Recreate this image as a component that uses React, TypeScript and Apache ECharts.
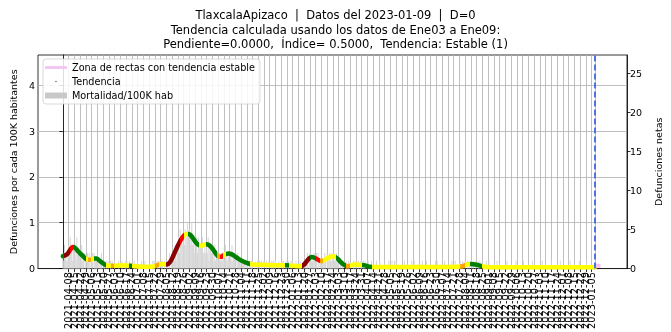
import { useEffect, useRef } from 'react';
import * as echarts from 'echarts';

// Day 0 of the x axis is 2021-04-01; values on x are day offsets from it.
const INICIO = Date.UTC(2021, 3, 1);
const DIA_CORTE = 648; // 2023-01-09
const POBLACION = 586000;
const Y_MAX = 4.66;

const TITULO = [
  'TlaxcalaApizaco  |  Datos del 2023-01-09  |  D=0',
  'Tendencia calculada usando los datos de Ene03 a Ene09:',
  'Pendiente=0.0000,  Índice= 0.5000,  Tendencia: Estable (1)',
];

// Net daily deaths, one string of 7 digits per week starting 2021-04-01.
const muertesSemana: string[] = [
  '2132121', '3242313', '2314222', '2131202', '1021210', '1202111', '1101120', '1010101',
  '0010100', '1000010', '0010001', '0100100', '0001000', '1000010', '0010000', '0000101',
  '1001010', '0110010', '1010201', '2121312', '3425343', '4353464', '5436342', '3242433',
  '3342232', '3241332', '2313122', '1221212', '2131212', '1213122', '2102111', '1011101',
  '0101011', '1001001', '0110100', '1001001', '0010110', '1000100', '0101001', '0010010',
  '1000100', '0010001', '1011201', '2111121', '1202101', '1111210', '2112112', '1211211',
  '1010110', '0010010', '1000101', '0101001', '1010100', '0100010', '0000100', '0100000',
  '0000010', '0010010', '1000000', '0001000', '0000010', '0100000', '0000100', '0010000',
  '0000001', '0100000', '0001000', '0000010', '0010000', '0100100', '1001010', '0101001',
  '0010100', '0000010', '0100000', '0000100', '0000000', '0010000', '0000001', '0000000',
  '0100000', '0000010', '0000000', '0001000', '0000000', '1000000', '0000100', '0000000',
  '0010000', '0000001', '0000000', '0100000', '00000',
];

// Smoothed trend (deaths per 100K) at selected days.
const tendenciaDias = [
  0, 3, 6, 9, 12, 15, 18, 21, 24, 28, 31, 35, 38, 41, 44, 47, 50, 53, 58, 64, 73, 83, 97, 108,
  113, 118, 122, 127, 130, 133, 136, 139, 142, 145, 148, 151, 154, 157, 160, 163, 166, 169, 172,
  175, 178, 181, 184, 187, 190, 193, 196, 199, 202, 206, 210, 214, 218, 223, 228, 234, 246, 254,
  265, 273, 281, 290, 294, 297, 300, 303, 306, 309, 312, 315, 318, 321, 325, 329, 332, 335, 338,
  341, 344, 347, 351, 356, 362, 368, 374, 380, 400, 430, 460, 480, 487, 492, 497, 502, 507, 513,
  520, 560, 600, 648,
];
const tendenciaValores = [
  0.27, 0.29, 0.33, 0.41, 0.47, 0.45, 0.39, 0.33, 0.28, 0.21, 0.19, 0.2, 0.22, 0.22, 0.18, 0.14,
  0.1, 0.07, 0.06, 0.06, 0.07, 0.06, 0.04, 0.04, 0.06, 0.09, 0.1, 0.09, 0.13, 0.22, 0.34, 0.46,
  0.57, 0.66, 0.73, 0.76, 0.75, 0.7, 0.62, 0.55, 0.51, 0.5, 0.52, 0.53, 0.51, 0.46, 0.39, 0.31,
  0.26, 0.26, 0.29, 0.32, 0.33, 0.31, 0.26, 0.21, 0.17, 0.13, 0.1, 0.085, 0.085, 0.07, 0.075,
  0.07, 0.06, 0.05, 0.09, 0.16, 0.22, 0.25, 0.24, 0.21, 0.18, 0.16, 0.18, 0.21, 0.25, 0.27, 0.25,
  0.21, 0.15, 0.1, 0.07, 0.05, 0.07, 0.09, 0.08, 0.07, 0.04, 0.035, 0.035, 0.035, 0.035, 0.04,
  0.05, 0.09, 0.1, 0.09, 0.07, 0.04, 0.03, 0.03, 0.03, 0.03,
];

const VERDE = '#008000';
const AMARILLO = '#ffff00';
const NARANJA = '#ffa500';
const ROJO = '#ff0000';
const GUINDA = '#8b0000';

// Trend classification along the curve: [from day, to day, colour].
const tramos: [number, number, string][] = [
  [-60, 1.5, VERDE], [1.5, 9, GUINDA], [9, 13, ROJO], [13, 28, VERDE], [28, 31, AMARILLO],
  [31, 34, NARANJA], [34, 38, AMARILLO], [38, 53, VERDE], [53, 58, AMARILLO], [58, 62, NARANJA],
  [62, 80, AMARILLO], [80, 84, VERDE], [84, 112, AMARILLO], [112, 117, NARANJA], [117, 126, AMARILLO],
  [126, 143, GUINDA], [143, 148, ROJO], [148, 152, AMARILLO], [152, 166, VERDE], [166, 174, AMARILLO],
  [174, 188, VERDE], [188, 191, NARANJA], [191, 195, ROJO], [195, 199, AMARILLO], [199, 228, VERDE],
  [228, 271, AMARILLO], [271, 275, VERDE], [275, 291, AMARILLO], [291, 301, GUINDA], [301, 308, VERDE],
  [308, 313, ROJO], [313, 317, NARANJA], [317, 333, AMARILLO], [333, 345, VERDE], [345, 350, NARANJA],
  [350, 365, AMARILLO], [365, 377, VERDE], [377, 484, AMARILLO], [484, 490, NARANJA], [490, 496, AMARILLO],
  [496, 510, VERDE], [510, 800, AMARILLO],
];

const zonaDias = [648, 655];
const zonaValores = [0.06, 0.06];

const ticksX: number[] = [];
for (let d = 0; d <= DIA_CORTE - 4; d += 7) ticksX.push(d);
ticksX.push(DIA_CORTE);

const ticksIzq = [0, 1, 2, 3, 4];
const ticksDer = [0, 5, 10, 15, 20, 25];

const fecha = (d: number) =>
  new Date(INICIO + Math.round(d) * 86400000).toISOString().slice(0, 10);

const FUENTE = 'DejaVu Sans';
const NEGRO = '#000000';
const REJILLA = '#b0b0b0';

export default function App() {
  const ref = useRef<HTMLDivElement>(null);

  useEffect(() => {
    if (!ref.current) return;
    const chart = echarts.init(ref.current, null, { renderer: 'svg' });

    const barras: [number, number][] = [];
    muertesSemana.join('').split('').forEach((c, i) => {
      const n = Number(c);
      if (n > 0) barras.push([i, (n * 100000) / POBLACION]);
    });
    const tendencia = tendenciaDias.map((d, i) => [d, tendenciaValores[i]]);
    const zona = zonaDias.map((d, i) => [d, zonaValores[i]]);

    const ejeLinea = { show: true, lineStyle: { color: NEGRO, width: 0.8 } };

    chart.setOption({
      animation: false,
      textStyle: { fontFamily: FUENTE },
      title: {
        text: TITULO.join('\n'),
        left: 'center',
        top: 8,
        padding: [0, 0, 0, 8],
        textStyle: {
          fontFamily: FUENTE,
          fontSize: 11.5,
          fontWeight: 'normal',
          lineHeight: 14.5,
          color: NEGRO,
        },
      },
      grid: {
        left: 38,
        right: 30,
        top: 55,
        bottom: 57,
        show: true,
        borderColor: NEGRO,
        borderWidth: 0.8,
      },
      legend: {
        orient: 'vertical',
        left: 43,
        top: 59,
        itemWidth: 22,
        itemHeight: 8,
        itemGap: 3,
        padding: [3, 5, 3, 2],
        backgroundColor: 'rgba(255,255,255,0.85)',
        borderColor: '#d0d0d0',
        borderWidth: 0.8,
        borderRadius: 3,
        textStyle: { fontFamily: FUENTE, fontSize: 9.7, color: NEGRO, lineHeight: 11 },
        data: [
          {
            name: 'Zona de rectas con tendencia estable',
            icon: 'path://M0,0 M22,8 M0,2.6 L22,2.6 L22,5.4 L0,5.4 Z',
            itemStyle: { color: '#f3c4f3', borderWidth: 0 },
          },
          {
            name: 'Tendencia',
            icon: 'path://M0,0 M22,8 M10.2,4 A0.8,0.8 0 1,0 11.8,4 A0.8,0.8 0 1,0 10.2,4 Z',
            itemStyle: { color: '#707070', borderWidth: 0 },
          },
          {
            name: 'Mortalidad/100K hab',
            icon: 'path://M0,0 M22,8 M0,1 L22,1 L22,7 L0,7 Z',
            itemStyle: { color: '#c8c8c8', borderWidth: 0 },
          },
        ],
      },
      visualMap: {
        type: 'piecewise',
        show: false,
        dimension: 0,
        seriesIndex: 1,
        pieces: tramos.map(([a, b, color]) => ({ gte: a, lt: b, color })),
        outOfRange: { color: AMARILLO },
      },
      xAxis: {
        type: 'value',
        min: -30.3,
        max: 687.2,
        axisLine: { ...ejeLinea, onZero: false },
        axisTick: {
          show: true,
          customValues: ticksX,
          length: 3.5,
          lineStyle: { color: NEGRO, width: 0.8 },
        },
        axisLabel: {
          customValues: ticksX,
          rotate: 90,
          fontSize: 9.8,
          margin: 3.5,
          color: NEGRO,
          fontFamily: FUENTE,
          formatter: (v: number) => fecha(v),
        },
        splitLine: { show: true, lineStyle: { color: REJILLA, width: 0.8 } },
      },
      yAxis: [
        {
          type: 'value',
          min: 0,
          max: Y_MAX,
          name: 'Defunciones por cada 100K habitantes',
          nameLocation: 'middle',
          nameGap: 17,
          nameTextStyle: { fontFamily: FUENTE, fontSize: 9.5, color: NEGRO },
          axisLine: ejeLinea,
          axisTick: {
            show: true,
            customValues: ticksIzq,
            length: 3.5,
            lineStyle: { color: NEGRO, width: 0.8 },
          },
          axisLabel: {
            customValues: ticksIzq,
            fontSize: 9.5,
            margin: 3,
            color: NEGRO,
            fontFamily: FUENTE,
          },
          splitLine: { show: true, lineStyle: { color: REJILLA, width: 0.8 } },
        },
        {
          type: 'value',
          position: 'right',
          min: 0,
          max: (Y_MAX * POBLACION) / 100000,
          name: 'Defunciones netas',
          nameLocation: 'middle',
          nameGap: 19,
          nameTextStyle: { fontFamily: FUENTE, fontSize: 9.5, color: NEGRO },
          axisLine: ejeLinea,
          axisTick: {
            show: true,
            customValues: ticksDer,
            length: 3.5,
            lineStyle: { color: NEGRO, width: 0.8 },
          },
          axisLabel: {
            customValues: ticksDer,
            fontSize: 9.5,
            margin: 3,
            color: NEGRO,
            fontFamily: FUENTE,
          },
          splitLine: { show: false },
        },
      ],
      series: [
        {
          type: 'bar',
          name: 'Mortalidad/100K hab',
          data: barras,
          barWidth: 0.5,
          itemStyle: { color: '#d6d6d6' },
          z: 2,
          silent: true,
          markLine: {
            silent: true,
            symbol: ['none', 'none'],
            label: { show: false },
            lineStyle: { color: '#4169e1', width: 1.8, type: [6, 3] },
            data: [{ xAxis: DIA_CORTE }],
          },
        },
        {
          type: 'line',
          name: 'Tendencia',
          data: tendencia,
          smooth: 0.35,
          symbol: 'none',
          lineStyle: { width: 4.5, cap: 'round' },
          z: 3,
          silent: true,
        },
        {
          type: 'line',
          name: 'Zona de rectas con tendencia estable',
          data: zona,
          symbol: 'none',
          lineStyle: { width: 4, color: '#f3c4f3' },
          itemStyle: { color: '#f3c4f3' },
          z: 4,
          silent: true,
        },
      ],
    });

    return () => chart.dispose();
  }, []);

  return (
    <div
      ref={ref}
      style={{ position: 'fixed', left: 0, top: 0, width: 671, height: 332 }}
    />
  );
}
